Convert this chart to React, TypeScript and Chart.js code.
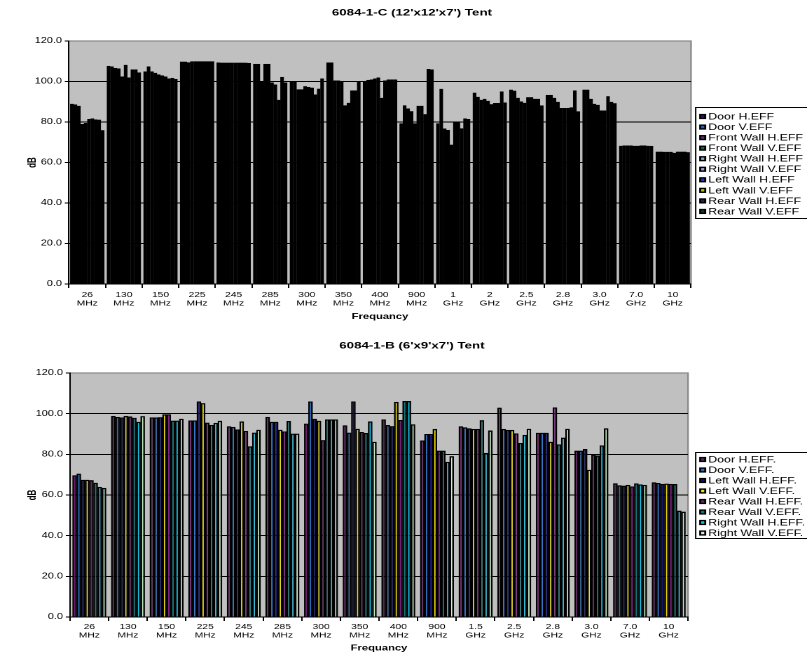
import React, { useEffect, useRef } from 'react';
import { Chart, registerables } from 'chart.js';

Chart.register(...registerables);

const FONT = "'Liberation Sans', Arial, Helvetica, sans-serif";
const LOGICAL_W = 576;
const PAGE_W = 807;

// ---------- Top chart (6084-1-C) ----------
const topTitle = "6084-1-C (12'x12'x7') Tent";
const topCategories = [
  ['26', 'MHz'], ['130', 'MHz'], ['150', 'MHz'], ['225', 'MHz'], ['245', 'MHz'], ['285', 'MHz'],
  ['300', 'MHz'], ['350', 'MHz'], ['400', 'MHz'], ['900', 'MHz'], ['1', 'GHz'], ['2', 'GHz'],
  ['2.5', 'GHz'], ['2.8', 'GHz'], ['3.0', 'GHz'], ['7.0', 'GHz'], ['10', 'GHz'],
];
const topLabels = [
  'Door H.EFF', 'Door V.EFF', 'Front Wall H.EFF', 'Front Wall V.EFF', 'Right Wall H.EFF',
  'Right Wall V.EFF', 'Left Wall H.EFF', 'Left Wall V.EFF', 'Rear Wall H.EFF', 'Rear Wall V.EFF',
];
const topColors = ['#3B0A5E', '#1F5FBF', '#7A1A7A', '#1E5A5A', '#7FA6D6', '#B08AE0', '#2233CC', '#B5C800', '#1A2A55', '#0F3D1A'];
const topDoorH = [89, 107.7, 105, 109.8, 109.4, 108.7, 99.8, 109.4, 100.2, 79.4, 79.4, 94.5, 96, 93.4, 96, 68.3, 65.4];
const topDoorV = [88.7, 107.5, 107.5, 109.8, 109.3, 108.7, 99.8, 109.4, 100.8, 88.3, 96.4, 92.5, 95.5, 93.4, 96, 68.4, 65.4];
const topFrontH = [88, 106.7, 105, 109.5, 109.3, 99.8, 96.2, 100.5, 101, 86.7, 76.8, 91, 92, 92, 91.5, 68.4, 65.3];
const topFrontV = [79, 106.5, 104.3, 110, 109.3, 108.7, 96.2, 100.5, 101.5, 85.4, 76.1, 91.5, 90.2, 90, 89, 68.4, 65.3];
const topRightH = [79.5, 102.5, 103.5, 110, 109.3, 108.7, 97.7, 100.3, 102, 79.4, 68.8, 90.5, 89.5, 86.9, 88.5, 68.3, 65.3];
const topRightV = [81.5, 108.3, 103, 110, 109.3, 99.5, 97.3, 88.3, 92, 88, 79.8, 88.8, 92.3, 86.9, 85.7, 68.3, 64.8];
const topLeftH = [81.8, 102, 102.5, 110, 109.3, 98.5, 97, 89.5, 100.5, 88, 79.8, 89.4, 92.3, 87, 85.7, 68.4, 65.4];
const topLeftV = [81.3, 106, 101.5, 110, 109.3, 91, 93.6, 95.6, 101, 83.9, 76.9, 89.4, 91.5, 87.3, 92.8, 68.4, 65.4];
const topRearH = [81.2, 106, 101.8, 110, 109.3, 102.3, 96.5, 95.6, 101, 106.2, 81.8, 95.1, 91.5, 95.6, 90, 68.3, 65.4];
const topRearV = [76, 104.5, 101.3, 110, 109.2, 99.5, 101.5, 99.8, 101, 106, 81.5, 89.6, 88.2, 85.3, 89.3, 68.2, 65.1];
const topValues = [topDoorH, topDoorV, topFrontH, topFrontV, topRightH, topRightV, topLeftH, topLeftV, topRearH, topRearV];

// ---------- Bottom chart (6084-1-B) ----------
const bottomTitle = "6084-1-B (6'x9'x7') Tent";
const bottomCategories = [
  ['26', 'MHz'], ['130', 'MHz'], ['150', 'MHz'], ['225', 'MHz'], ['245', 'MHz'], ['285', 'MHz'],
  ['300', 'MHz'], ['350', 'MHz'], ['400', 'MHz'], ['900', 'MHz'], ['1.5', 'GHz'], ['2.5', 'GHz'],
  ['2.8', 'GHz'], ['3.0', 'GHz'], ['7.0', 'GHz'], ['10', 'GHz'],
];
const bottomLabels = [
  'Door H.EFF.', 'Door V.EFF.', 'Left Wall H.EFF.', 'Left Wall V.EFF.',
  'Rear Wall H.EFF.', 'Rear Wall V.EFF.', 'Right Wall H.EFF.', 'Right Wall V.EFF.',
];
const bottomColors = ['#6A1B6A', '#1F6FCF', '#101070', '#F0E000', '#7A1A80', '#147878', '#10C8F0', '#C8F0C8'];
const botDoorH = [69.7, 98.9, 98.2, 96.7, 93.8, 98.4, 95.1, 94.3, 97.2, 86.8, 93.8, 103, 90.6, 81.8, 65.8, 66.3];
const botDoorV = [70.5, 98.4, 98.2, 96.7, 93.5, 96, 106, 90.7, 94.4, 90, 93.3, 92.5, 90.6, 81.8, 64.8, 65.9];
const botLeftH = [67.5, 98.2, 98.3, 106, 92.3, 96, 97.5, 106, 93.9, 90, 92.8, 92, 90.6, 82.6, 64.6, 65.5];
const botLeftV = [67.5, 98.9, 99.7, 105.2, 96.2, 92.1, 96.5, 92.6, 105.8, 92.5, 92.5, 92, 86.2, 72.4, 65, 65.6];
const botRearH = [67.3, 98.6, 99.7, 95.6, 91.5, 91.3, 87, 91, 96.9, 81.8, 92.5, 90.3, 103.1, 79.9, 64.2, 65.5];
const botRearV = [66, 98, 96.6, 94.5, 84, 96.4, 97.2, 90.5, 106.2, 81.8, 96.8, 85.6, 84.9, 79.4, 65.7, 65.4];
const botRightH = [64, 96, 96.6, 95.5, 90.7, 90.2, 97.2, 96.2, 106.2, 76.3, 80.7, 89.6, 88.2, 84.4, 65.2, 52.3];
const botRightV = [63.5, 98.8, 97.5, 96.5, 92.1, 90.2, 97.2, 86.2, 94.8, 79.1, 91.7, 92.6, 92.6, 92.8, 65, 51.8];
const bottomValues = [botDoorH, botDoorV, botLeftH, botLeftV, botRearH, botRearV, botRightH, botRightV];

const yTicksMin = 0;
const yTicksMax = 120;
const yTicksStep = 20;
const xAxisTitle = 'Frequancy';
const yAxisTitle = 'dB';

const excelLook = {
  id: 'excelLook',
  beforeDraw(chart: any) {
    const { ctx, chartArea: a } = chart;
    ctx.save();
    ctx.fillStyle = '#C0C0C0';
    ctx.fillRect(a.left, a.top, a.right - a.left, a.bottom - a.top);
    ctx.strokeStyle = '#8C8C8C';
    ctx.lineWidth = 1.2;
    ctx.beginPath();
    ctx.moveTo(a.left, a.top);
    ctx.lineTo(a.right, a.top);
    ctx.lineTo(a.right, a.bottom);
    ctx.stroke();
    ctx.restore();
  },
  afterDraw(chart: any, _args: any, opts: any) {
    const { ctx } = chart;
    const { x, y, w, h, firstRow, rowH, fontSize } = opts;
    ctx.save();
    ctx.fillStyle = '#FFFFFF';
    ctx.fillRect(x, y, w, h);
    ctx.strokeStyle = '#000000';
    ctx.lineWidth = 1;
    ctx.strokeRect(x + 0.5, y + 0.5, w, h);
    ctx.font = `${fontSize}px ${FONT}`;
    ctx.textBaseline = 'middle';
    ctx.textAlign = 'left';
    chart.data.datasets.forEach((ds: any, i: number) => {
      const cy = y + firstRow + i * rowH;
      ctx.fillStyle = '#000';
      ctx.fillRect(x + 3, cy - 2.6, 5, 5.2);
      ctx.fillStyle = ds.backgroundColor;
      ctx.fillRect(x + 4.4, cy - 1.2, 2.2, 2.4);
      ctx.fillStyle = '#000';
      ctx.fillText(ds.label, x + 9.5, cy + 0.5);
    });
    ctx.restore();
  },
};

type Spec = {
  title: string;
  categories: string[][];
  labels: string[];
  colors: string[];
  values: number[][];
  categoryPercentage: number;
  barPercentage: number;
  borderWidth: number;
  titlePad: { top: number; bottom: number };
  xHeight: number;
  xTitlePadBottom: number;
  xTickPad: number;
  chartRight: number;
  chartLeft: number;
  legend: { x: number; y: number; w: number; h: number; firstRow: number; rowH: number; fontSize: number };
};

const LEFT_PAD = 12;

function makeConfig(spec: Spec): any {
  return {
    type: 'bar',
    data: {
      labels: spec.categories,
      datasets: spec.labels.map((label, i) => ({
        label,
        data: spec.values[i],
        backgroundColor: spec.colors[i],
        borderColor: '#000000',
        borderWidth: spec.borderWidth,
        borderSkipped: 'start',
        categoryPercentage: spec.categoryPercentage,
        barPercentage: spec.barPercentage,
      })),
    },
    options: {
      responsive: false,
      animation: false,
      devicePixelRatio: 2,
      events: [],
      layout: { padding: { left: LEFT_PAD, right: 0, top: 0, bottom: 0 } },
      plugins: {
        legend: { display: false },
        tooltip: { enabled: false },
        title: {
          display: true,
          text: spec.title,
          color: '#000',
          font: { family: FONT, size: 9.5, weight: 'bold' },
          padding: spec.titlePad,
        },
        excelLook: spec.legend,
      },
      scales: {
        x: {
          type: 'category',
          offset: true,
          grid: { display: true, drawOnChartArea: false, offset: true, tickLength: 4, color: '#000', lineWidth: 1 },
          border: { display: true, color: '#000', width: 1 },
          ticks: {
            color: '#000',
            font: { family: FONT, size: 7.3, lineHeight: 1.12 },
            padding: spec.xTickPad,
            maxRotation: 0,
            minRotation: 0,
            autoSkip: false,
          },
          title: {
            display: true,
            text: xAxisTitle,
            color: '#000',
            font: { family: FONT, size: 8, weight: 'bold' },
            padding: { top: 0, bottom: spec.xTitlePadBottom },
          },
          afterFit: (s: any) => { s.height = spec.xHeight; },
        },
        y: {
          type: 'linear',
          position: 'left',
          min: yTicksMin,
          max: yTicksMax,
          ticks: {
            stepSize: yTicksStep,
            color: '#000',
            font: { family: FONT, size: 7.8 },
            padding: 2,
            callback: (v: any) => Number(v).toFixed(1),
          },
          grid: {
            color: (c: any) => (c.tick && (c.tick.value === yTicksMin || c.tick.value === yTicksMax) ? 'rgba(0,0,0,0)' : '#000'),
            tickColor: '#000',
            tickLength: 3,
            lineWidth: 1,
          },
          border: { display: true, color: '#000', width: 1 },
          title: {
            display: true,
            text: yAxisTitle,
            color: '#000',
            font: { family: FONT, size: 8, weight: 'bold' },
            padding: { top: 6.5, bottom: 0 },
          },
          afterFit: (s: any) => { s.width = spec.chartLeft - LEFT_PAD; },
        },
        legendSpace: {
          type: 'linear',
          position: 'right',
          display: true,
          grid: { display: false, drawTicks: false },
          border: { display: false },
          ticks: { display: false },
          afterFit: (s: any) => { s.width = LOGICAL_W - spec.chartRight; },
        },
      },
    },
    plugins: [excelLook],
  };
}

const SX = PAGE_W / LOGICAL_W;

const topSpec: Spec = {
  title: topTitle,
  categories: topCategories,
  labels: topLabels,
  colors: topColors,
  values: topValues,
  categoryPercentage: 0.93,
  barPercentage: 1.12,
  borderWidth: 2,
  titlePad: { top: 7.3, bottom: 22.3 },
  xHeight: 42,
  xTitlePadBottom: 4.4,
  xTickPad: 3,
  chartLeft: 69 / SX,
  chartRight: 691 / SX,
  legend: { x: 695 / SX, y: 107, w: 100, h: 111, firstRow: 9.5, rowH: 10.55, fontSize: 8.8 },
};

const bottomSpec: Spec = {
  title: bottomTitle,
  categories: bottomCategories,
  labels: bottomLabels,
  colors: bottomColors,
  values: bottomValues,
  categoryPercentage: 0.87,
  barPercentage: 1.1,
  borderWidth: 1.3,
  titlePad: { top: 14.3, bottom: 21.3 },
  xHeight: 39,
  xTitlePadBottom: 2.9,
  xTickPad: 2,
  chartLeft: 70 / SX,
  chartRight: 688 / SX,
  legend: { x: 695 / SX, y: 126, w: 100, h: 86, firstRow: 7.5, rowH: 10.5, fontSize: 8.8 },
};

function ChartCanvas({ spec, top, height }: { spec: Spec; top: number; height: number }) {
  const ref = useRef<HTMLCanvasElement | null>(null);
  useEffect(() => {
    if (!ref.current) return;
    const chart = new Chart(ref.current, makeConfig(spec));
    return () => chart.destroy();
  }, [spec]);
  return (
    <canvas
      ref={ref}
      width={LOGICAL_W}
      height={height}
      style={{ position: 'absolute', left: 0, top, width: `${PAGE_W}px`, height: `${height}px` }}
    />
  );
}

export default function App() {
  return (
    <div style={{ position: 'absolute', left: 0, top: 0, width: PAGE_W, height: 656, overflow: 'hidden', background: '#fff' }}>
      <ChartCanvas spec={topSpec} top={0} height={326} />
      <ChartCanvas spec={bottomSpec} top={326} height={330} />
    </div>
  );
}
